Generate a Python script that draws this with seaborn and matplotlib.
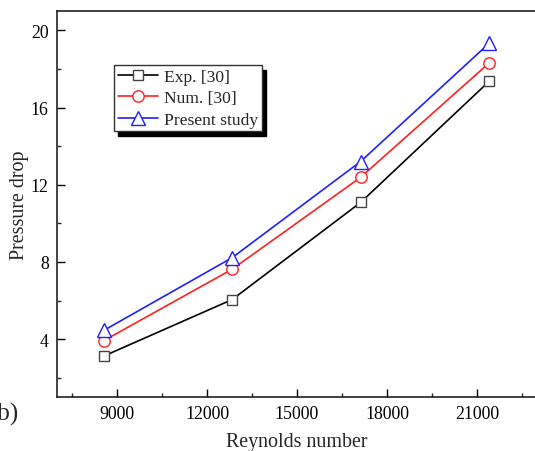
import matplotlib
matplotlib.use("Agg")
import matplotlib.pyplot as plt
import seaborn as sns
import pandas as pd
from matplotlib.ticker import MultipleLocator

reynolds = [8560, 12840, 17120, 21400]
exp_30 = [3.12, 6.05, 11.08, 17.35]
num_30 = [3.92, 7.62, 12.38, 18.30]
present = [4.45, 8.22, 13.20, 19.32]
series_names = ["Exp. [30]", "Num. [30]", "Present study"]
x_ticks = [9000, 12000, 15000, 18000, 21000]
y_ticks = [4, 8, 12, 16, 20]

sns.set_theme(style="ticks")
plt.rcParams['font.family'] = ['Liberation Serif', 'DejaVu Serif']
plt.rcParams['mathtext.fontset'] = 'stix'

fig = plt.figure(figsize=(5.35, 4.52), dpi=100)
ax = fig.add_axes([57/535, 54/452, 480/535, 386/452])

styles = [
    dict(color="black", marker="s", mec="#444444", ms=7.6),
    dict(color="#ff2020", marker="o", mec="#ff2020", ms=8.2),
    dict(color="#1f1fff", marker="^", mec="#1f1fff", ms=9.5),
]
values = [exp_30, num_30, present]
for name, vals, st in zip(series_names, values, styles):
    df = pd.DataFrame({"Re": reynolds, "dp": vals})
    sns.lineplot(data=df, x="Re", y="dp", ax=ax, color=st["color"], lw=1.2,
                 marker=st["marker"], markersize=st["ms"], markerfacecolor="white",
                 markeredgecolor=st["mec"], markeredgewidth=1.0, label=name)

ax.set_xlim(7000, 23000)
ax.set_ylim(1, 21)
ax.set_xticks(x_ticks)
ax.set_yticks(y_ticks)
ax.xaxis.set_minor_locator(MultipleLocator(1500))
ax.yaxis.set_minor_locator(MultipleLocator(2))
ax.tick_params(which="major", direction="in", length=5.5, width=1.0, labelsize=12.8,
               top=False, right=False, colors="black", pad=6)
ax.tick_params(which="minor", direction="in", length=2.8, width=1.0, top=False, right=False)
for s in ax.spines.values():
    s.set_linewidth(1.2)
    s.set_color("#222222")
ax.set_xlabel("Reynolds number", fontsize=14.4, labelpad=7)
ax.set_ylabel("Pressure drop", fontsize=14.4, labelpad=1)

leg = ax.legend(loc="upper left", bbox_to_anchor=((114-57)/480, (398-66)/386),
                borderaxespad=0, fontsize=12.6, frameon=True, fancybox=False,
                handlelength=2.3, handletextpad=0.35, borderpad=0.2, labelspacing=0.3,
                shadow={"color": "black", "alpha": 1.0, "ox": 3, "oy": -3.5})
leg.get_frame().set_edgecolor("#333333")
leg.get_frame().set_linewidth(1.0)

fig.text(-0.019, 0.084, "(b)", fontsize=18, va="center", ha="left")

fig.savefig("out.png", dpi=100)
